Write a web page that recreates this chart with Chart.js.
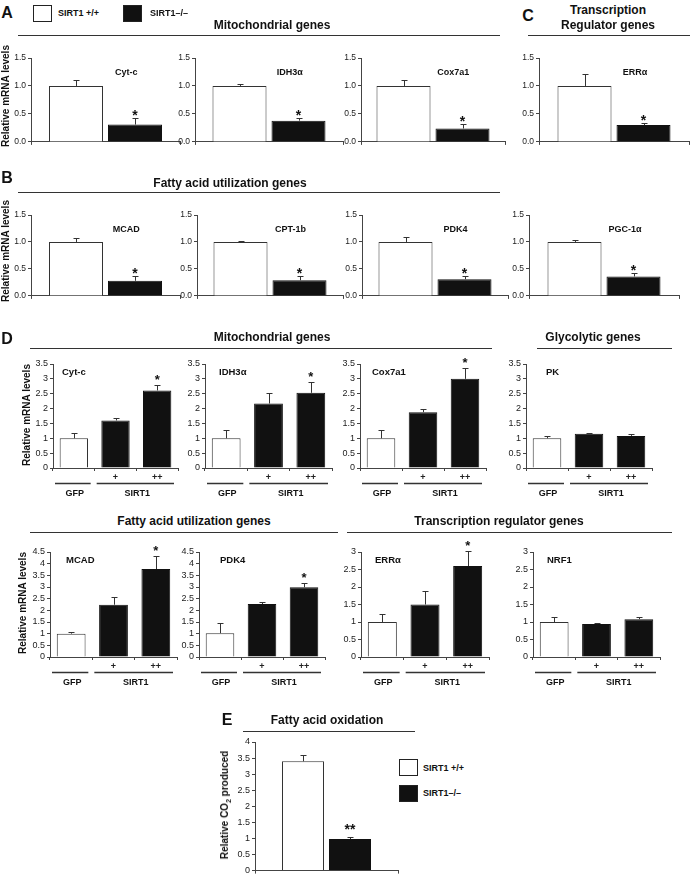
<!DOCTYPE html>
<html>
<head>
<meta charset="utf-8">
<script src="https://cdn.jsdelivr.net/npm/chart.js@4.4.1/dist/chart.umd.min.js"></script>
<style>
  body { margin: 0; background: #fff; }
  #fig { position: relative; width: 691px; height: 879px; overflow: hidden; font-family: "Liberation Sans", Arial, sans-serif; color: #111; }
  .t { position: absolute; white-space: nowrap; font-weight: bold; line-height: 1; z-index: 2; }
  .c { transform: translate(-50%, -50%); }
  .l { transform: translateY(-50%); }
  .h { font-size: 12px; }
  .p { font-size: 16px; }
  .lg { font-size: 9px; }
  .yt { font-size: 10px; transform: translate(-50%, -50%) rotate(-90deg); }
  .rule { position: absolute; height: 0; border-top: 1.5px solid #333; }
  .box { position: absolute; width: 17px; height: 15px; border: 1px solid #222; }
</style>
</head>
<body>
<div id="fig">
  <!-- panel A / C headers -->
  <div class="t p c" style="left:7px;top:13px">A</div>
  <div class="box" style="left:33px;top:5px;background:#fff"></div>
  <div class="t lg l" style="left:58px;top:13px">SIRT1 +/+</div>
  <div class="box" style="left:123px;top:5px;background:#111"></div>
  <div class="t lg l" style="left:150px;top:13px">SIRT1–/–</div>
  <div class="t h c" style="left:272px;top:25px">Mitochondrial genes</div>
  <div class="rule" style="left:18px;top:35px;width:482px"></div>
  <div class="t p c" style="left:528px;top:16px">C</div>
  <div class="t h c" style="left:608px;top:10px">Transcription</div>
  <div class="t h c" style="left:608px;top:25px">Regulator genes</div>
  <div class="rule" style="left:528px;top:35px;width:162px"></div>
  <div class="t yt" style="left:6px;top:96px">Relative mRNA levels</div>

  <!-- panel B -->
  <div class="t p c" style="left:7px;top:178px">B</div>
  <div class="t h c" style="left:230px;top:183px">Fatty acid utilization genes</div>
  <div class="rule" style="left:18px;top:192px;width:482px"></div>
  <div class="t yt" style="left:6px;top:251px">Relative mRNA levels</div>

  <!-- panel D -->
  <div class="t p c" style="left:7px;top:339px">D</div>
  <div class="t h c" style="left:272px;top:337px">Mitochondrial genes</div>
  <div class="rule" style="left:30px;top:348px;width:462px"></div>
  <div class="t h c" style="left:593px;top:337px">Glycolytic genes</div>
  <div class="rule" style="left:537px;top:348px;width:135px"></div>
  <div class="t yt" style="left:27px;top:415px">Relative mRNA levels</div>
  <div class="t h c" style="left:194px;top:521px">Fatty acid utilization genes</div>
  <div class="rule" style="left:30px;top:532px;width:308px"></div>
  <div class="t h c" style="left:499px;top:521px">Transcription regulator genes</div>
  <div class="rule" style="left:347px;top:532px;width:325px"></div>
  <div class="t yt" style="left:23px;top:603px">Relative mRNA levels</div>

  <!-- panel E -->
  <div class="t p c" style="left:227px;top:720px">E</div>
  <div class="t h c" style="left:327px;top:720px">Fatty acid oxidation</div>
  <div class="rule" style="left:243px;top:731px;width:172px"></div>
  <div class="t yt" style="left:226px;top:805px">Relative CO<sub style="font-size:7px">2</sub> produced</div>
  <div class="box" style="left:399px;top:759px;background:#fff"></div>
  <div class="t lg l" style="left:423px;top:768px">SIRT1 +/+</div>
  <div class="box" style="left:399px;top:785px;background:#111"></div>
  <div class="t lg l" style="left:423px;top:793px">SIRT1–/–</div>
</div>

<script>
// ---- data ----
// A + C (top row): wild type vs knockout
const genesAC = ['Cyt-c', 'IDH3α', 'Cox7a1', 'ERRα'];
const wtAC = [1.0, 1.0, 1.0, 1.0];
const wtErrAC = [0.11, 0.03, 0.11, 0.21];
const koAC = [0.31, 0.38, 0.24, 0.30];
const koErrAC = [0.11, 0.04, 0.08, 0.04];
const sigAC = ['*', '*', '*', '*'];

// B + C (second row)
const genesBC = ['MCAD', 'CPT-1b', 'PDK4', 'PGC-1α'];
const wtBC = [1.0, 1.0, 1.0, 1.0];
const wtErrBC = [0.07, 0.02, 0.09, 0.04];
const koBC = [0.28, 0.29, 0.31, 0.36];
const koErrBC = [0.08, 0.08, 0.05, 0.07];
const sigBC = ['*', '*', '*', '*'];

// D: GFP vs SIRT1 (+, ++)
const doseLabels = ['', '+', '++'];
const groupLabels = ['GFP', 'SIRT1'];
const groupSpans = [[0, 0], [1, 2]];

const genesD1 = ['Cyt-c', 'IDH3α', 'Cox7a1', 'PK'];
const gfpD1 = [1.0, 1.0, 1.0, 1.0];
const gfpErrD1 = [0.17, 0.28, 0.27, 0.09];
const plusD1 = [1.60, 2.17, 1.88, 1.15];
const plusErrD1 = [0.08, 0.36, 0.09, 0.03];
const ppD1 = [2.61, 2.53, 3.0, 1.08];
const ppErrD1 = [0.20, 0.35, 0.37, 0.06];
const sigD1 = ['*', '*', '*', ''];
const yMaxD1 = [3.5, 3.5, 3.5, 3.5];

const genesD2 = ['MCAD', 'PDK4', 'ERRα', 'NRF1'];
const gfpD2 = [1.0, 1.02, 1.0, 1.0];
const gfpErrD2 = [0.07, 0.45, 0.24, 0.13];
const plusD2 = [2.24, 2.27, 1.50, 0.94];
const plusErrD2 = [0.33, 0.09, 0.38, 0.03];
const ppD2 = [3.77, 2.99, 2.60, 1.08];
const ppErrD2 = [0.55, 0.19, 0.43, 0.07];
const sigD2 = ['*', '*', '*', ''];
const yMaxD2 = [4.5, 4.5, 3, 3];

// E: fatty acid oxidation
const oxLabels = ['SIRT1 +/+', 'SIRT1–/–'];
const oxValues = [3.4, 0.98];
const oxErr = [0.19, 0.06];
const oxSig = ['', '**'];

// ---- layout (pixel positions of each plot's axes) ----
const posAC = [{ ax: 31, ex: 180 }, { ax: 195, ex: 343 }, { ax: 361, ex: 505 }, { ax: 539, ex: 689 }];
const posBC = [{ ax: 31, ex: 180 }, { ax: 197, ex: 343 }, { ax: 362, ex: 508 }, { ax: 529, ex: 679 }];
const posD1 = [{ ax: 53, ex: 178, dx: 9 }, { ax: 205, ex: 332, dx: 14 }, { ax: 360, ex: 486, dx: 12 }, { ax: 526, ex: 652, dx: 20 }];
const posD2 = [{ ax: 50, ex: 177, dx: 16 }, { ax: 199, ex: 325, dx: 21 }, { ax: 361, ex: 489, dx: 14 }, { ax: 533, ex: 660, dx: 14 }];

const FONT = '"Liberation Sans", Arial, sans-serif';
Chart.defaults.font.family = FONT;
Chart.defaults.color = '#222';
const FIG = document.getElementById('fig');
const WHITE = '#fff', BLACK = '#111', EDGE = '#333';

function drawMarks(chart, o) {
  const ctx = chart.ctx, x = chart.scales.x, y = chart.scales.y, a = chart.chartArea;
  ctx.save();
  ctx.strokeStyle = EDGE;
  ctx.fillStyle = '#111';
  ctx.lineWidth = 1;
  chart.data.datasets.forEach((ds, di) => {
    chart.getDatasetMeta(di).data.forEach((bar, i) => {
      const top = Math.round(y.getPixelForValue(ds.data[i] + ds.err[i])) + 0.5;
      const bx = Math.round(bar.x) + 0.5;
      ctx.beginPath();
      ctx.moveTo(bx, bar.y);
      ctx.lineTo(bx, top);
      ctx.moveTo(bx - 3, top);
      ctx.lineTo(bx + 3, top);
      ctx.stroke();
      if (ds.sig[i]) {
        ctx.font = `bold ${o.sigSize}px ${FONT}`;
        ctx.textAlign = 'center';
        ctx.textBaseline = 'alphabetic';
        ctx.fillText(ds.sig[i], bar.x, top + o.sigGap);
      }
    });
  });
  if (o.gene) {
    ctx.font = `bold ${o.geneSize}px ${FONT}`;
    ctx.textBaseline = 'middle';
    ctx.textAlign = o.geneAlign;
    const gx = o.geneAlign === 'center' ? a.left + 0.64 * (a.right - a.left) : a.left + o.dx;
    ctx.fillText(o.gene, gx, y.getPixelForValue(o.geneY));
  }
  if (o.groups) {
    const half = (x.getPixelForValue(1) - x.getPixelForValue(0)) / 2;
    const ly = a.bottom + 15.5;
    ctx.font = `bold 9px ${FONT}`;
    ctx.textAlign = 'center';
    ctx.textBaseline = 'middle';
    ctx.lineWidth = 1.5;
    groupSpans.forEach(([s, e], k) => {
      const x0 = x.getPixelForValue(s) - half + 2, x1 = x.getPixelForValue(e) + half - 4;
      ctx.beginPath();
      ctx.moveTo(x0, ly);
      ctx.lineTo(x1, ly);
      ctx.stroke();
      ctx.fillText(groupLabels[k], (x0 + x1) / 2 + 2, a.bottom + 26);
    });
  }
  ctx.restore();
}

function makeChart(p, labels, datasets, o) {
  const yW = 24, pt = 18, pr = 3;
  const w = p.ex - p.ax + yW + pr, h = p.by - p.ty + pt + o.xH;
  const cv = document.createElement('canvas');
  cv.width = w;
  cv.height = h;
  cv.style.cssText = `position:absolute;left:${p.ax - yW}px;top:${p.ty - pt}px;width:${w}px;height:${h}px;z-index:1`;
  FIG.appendChild(cv);
  return new Chart(cv, {
    type: 'bar',
    data: { labels, datasets },
    options: {
      responsive: false,
      animation: false,
      layout: { padding: { top: pt, right: pr, left: 0, bottom: 0 } },
      plugins: { legend: { display: false }, tooltip: { enabled: false } },
      scales: {
        x: {
          grid: { drawOnChartArea: false, tickLength: 3, color: '#444' },
          border: { color: '#444' },
          ticks: { display: !!o.xTicks, font: { size: 9, weight: 'bold' }, padding: 1, color: '#222', maxRotation: 0 },
          afterFit: s => { s.height = o.xH; }
        },
        y: {
          min: 0,
          max: o.max,
          grid: { drawOnChartArea: false, tickLength: 3, color: '#444' },
          border: { color: '#444' },
          ticks: { stepSize: o.step, autoSkip: false, padding: 2, font: { size: o.tickSize }, color: '#222', callback: o.fmt },
          afterFit: s => { s.width = yW; }
        }
      }
    },
    plugins: [{ id: 'marks', afterDatasetsDraw: c => drawMarks(c, o) }]
  });
}

// two bars side by side (white / black), as one group
function pairChart(p, gene, vals, errs, sigs, o) {
  const span = p.ex - p.ax, slot = o.barW + 5;
  const datasets = vals.map((v, k) => ({
    data: [v],
    err: [errs[k]],
    sig: [sigs[k]],
    backgroundColor: k ? BLACK : WHITE,
    borderColor: k ? BLACK : EDGE,
    borderWidth: 1,
    categoryPercentage: (2 * slot) / span,
    barPercentage: o.barW / slot
  }));
  return makeChart(p, [gene], datasets, Object.assign({ gene }, o));
}

// GFP / SIRT1 + / SIRT1 ++
function doseChart(p, gene, vals, errs, sig, max) {
  const datasets = [{
    data: vals,
    err: errs,
    sig: ['', '', sig],
    backgroundColor: [WHITE, BLACK, BLACK],
    borderColor: [EDGE, BLACK, BLACK],
    borderWidth: 1,
    categoryPercentage: 1,
    barPercentage: 0.68
  }];
  return makeChart(p, doseLabels, datasets, {
    gene, geneAlign: 'left', dx: p.dx, geneY: max * 0.92, geneSize: 9.5,
    max, step: 0.5, tickSize: 9, fmt: v => String(Math.round(v * 10) / 10),
    xH: 36, xTicks: true, groups: true, sigSize: 13, sigGap: -2
  });
}

const fixed1 = v => v.toFixed(1);
const pairOpts = { barW: 54, max: 1.5, step: 0.5, tickSize: 8.5, fmt: fixed1, xH: 6, geneAlign: 'center', geneY: 1.24, geneSize: 9, sigSize: 14, sigGap: 1 };

genesAC.forEach((g, i) => {
  pairChart(Object.assign({ ty: 58, by: 143 }, posAC[i]), g, [wtAC[i], koAC[i]], [wtErrAC[i], koErrAC[i]], ['', sigAC[i]], pairOpts);
});
genesBC.forEach((g, i) => {
  pairChart(Object.assign({ ty: 215, by: 297 }, posBC[i]), g, [wtBC[i], koBC[i]], [wtErrBC[i], koErrBC[i]], ['', sigBC[i]], pairOpts);
});
genesD1.forEach((g, i) => {
  doseChart(Object.assign({ ty: 364, by: 468 }, posD1[i]), g, [gfpD1[i], plusD1[i], ppD1[i]], [gfpErrD1[i], plusErrD1[i], ppErrD1[i]], sigD1[i], yMaxD1[i]);
});
genesD2.forEach((g, i) => {
  doseChart(Object.assign({ ty: 552, by: 657 }, posD2[i]), g, [gfpD2[i], plusD2[i], ppD2[i]], [gfpErrD2[i], plusErrD2[i], ppErrD2[i]], sigD2[i], yMaxD2[i]);
});

pairChart({ ax: 255, ex: 398, ty: 742, by: 873 }, '', oxValues, oxErr, oxSig, {
  barW: 42, max: 4, step: 0.5, tickSize: 9, fmt: v => String(Math.round(v * 10) / 10),
  xH: 5, sigSize: 14, sigGap: -4
});
</script>
</body>
</html>
